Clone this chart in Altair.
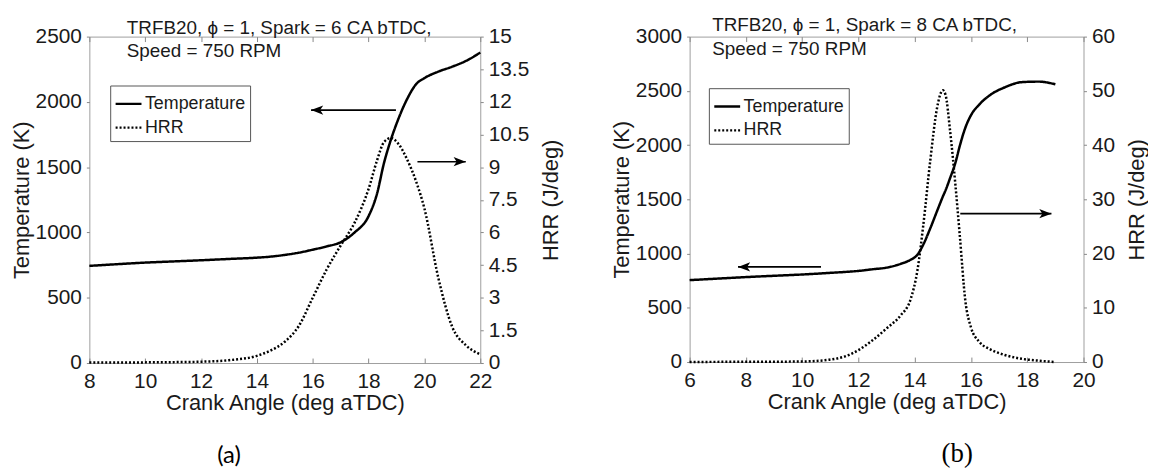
import altair as alt
import pandas as pd

FONT = "Liberation Sans"
INK = "#1a1a1a"
BOX = "#9e9e9e"

# ---------------- data: panel (a) ----------------
ca_a = [8, 9, 10, 11, 12, 13, 14, 14.5, 15, 15.5, 16, 16.5, 17, 17.5, 18, 18.3,
        18.55, 18.8, 19.05, 19.4, 19.7, 20, 20.5, 21, 21.5, 22]
temp_a = [744, 757, 769, 778, 787, 797, 807, 815, 828, 845, 868, 893, 925, 1000,
          1125, 1295, 1530, 1711, 1860, 2030, 2135, 2182, 2232, 2270, 2315, 2378]
hrr_a = [0.02, 0.02, 0.03, 0.04, 0.06, 0.13, 0.33, 0.58, 0.98, 1.7, 3.0, 4.3,
         5.4, 6.45, 8.0, 9.3, 10.15, 10.34, 10.1, 9.3, 8.35, 7.1, 3.9, 1.65, 0.8, 0.4]

# ---------------- data: panel (b) ----------------
ca_b = [6, 7, 8, 9, 10, 10.5, 11, 11.5, 12, 12.5, 13, 13.5, 13.85, 14.1, 14.3,
        14.55, 14.8, 15.0, 15.1, 15.25, 15.45, 15.6, 15.8, 16.0, 16.3, 16.7, 17.2,
        17.8, 18.4, 19.0]
temp_b = [755, 769, 783, 795, 807, 814, 822, 830, 840, 855, 870, 905, 942, 990,
          1080, 1230, 1395, 1525, 1585, 1690, 1840, 1990, 2160, 2275, 2375, 2465,
          2532, 2580, 2585, 2560]
hrr_b = [0.02, 0.03, 0.04, 0.06, 0.1, 0.2, 0.45, 1.0, 2.2, 4.0, 6.2, 8.6, 11.5,
         17, 25, 37, 47, 50.1, 49.2, 43, 32.5, 23.5, 11.3, 6.4, 3.7, 2.3, 1.3,
         0.6, 0.25, 0.0]

# ---------------- axes / ticks ----------------
x_ticks_a = [8, 10, 12, 14, 16, 18, 20, 22]
x_ticks_b = [6, 8, 10, 12, 14, 16, 18, 20]
t_ticks_a = [0, 500, 1000, 1500, 2000, 2500]
t_ticks_b = [0, 500, 1000, 1500, 2000, 2500, 3000]
h_ticks_a = [0, 1.5, 3, 4.5, 6, 7.5, 9, 10.5, 12, 13.5, 15]
h_ticks_b = [0, 10, 20, 30, 40, 50, 60]

series_names = ["Temperature", "HRR"]

# ---------------- annotation arrows (crank angle start/end, temperature-axis level) ----
arrow_a_start = [18.98, 19.75]
arrow_a_end = [15.94, 21.48]
arrow_a_level = [1937, 1542]
arrow_b_start = [10.67, 15.62]
arrow_b_end = [7.72, 18.86]
arrow_b_level = [877, 1368]

title_a = ["TRFB20, \u03d5 = 1, Spark = 6 CA bTDC,", "Speed = 750 RPM"]
title_b = ["TRFB20, \u03d5 = 1, Spark = 8 CA bTDC,", "Speed = 750 RPM"]

HEAD_RIGHT = "M0,0L-1,-0.38L-0.75,0L-1,0.38Z"
HEAD_LEFT = "M0,0L1,-0.38L0.75,0L1,0.38Z"


def panel(ca, temp, hrr, xt, tt, ht, a_start, a_end, a_level, title_lines,
          label, label_font, label_size, label_pos, title_pos, legend_pos,
          width, height):
    df = pd.DataFrame({"ca": ca, "temp": temp, "hrr": hrr})
    xscale = alt.Scale(domain=[xt[0], xt[-1]], nice=False, zero=False)
    tscale = alt.Scale(domain=[tt[0], tt[-1]], nice=False, zero=False)
    hscale = alt.Scale(domain=[ht[0], ht[-1]], nice=False, zero=False)
    dash_scale = alt.Scale(domain=series_names, range=[[1, 0], [2, 2]])
    legend = alt.Legend(
        title=None, orient="none", legendX=legend_pos[0], legendY=legend_pos[1],
        direction="vertical", symbolType="stroke", symbolSize=680,
        symbolStrokeWidth=2.4, symbolStrokeColor="black", labelFont=FONT,
        labelFontSize=18, labelColor=INK, strokeColor="#555555",
        fillColor="white", padding=4, rowPadding=0, labelOffset=2,
    )

    x_main = alt.X("ca:Q", scale=xscale, axis=alt.Axis(
        orient="bottom", values=xt, title="Crank Angle (deg aTDC)", domain=False,
        ticks=False, labelPadding=8, titlePadding=1, grid=False, format="d"))

    temp_line = alt.Chart(df).transform_calculate(series="'Temperature'").mark_line(
        color="black", strokeWidth=2.5, interpolate="monotone"
    ).encode(
        x=x_main,
        y=alt.Y("temp:Q", scale=tscale, axis=alt.Axis(
            orient="left", values=tt, title="Temperature (K)", domain=False,
            tickSize=3, tickColor="#888888", labelPadding=5, titlePadding=2,
            grid=False, format="d")),
        strokeDash=alt.StrokeDash("series:N", scale=dash_scale, legend=legend),
    )

    hrr_line = alt.Chart(df).transform_calculate(series="'HRR'").mark_line(
        color="black", strokeWidth=2.5, interpolate="monotone"
    ).encode(
        x=alt.X("ca:Q", scale=xscale, axis=None),
        y=alt.Y("hrr:Q", scale=hscale, axis=alt.Axis(
            orient="right", values=ht, title="HRR (J/deg)", domain=False,
            tickSize=3, tickColor="#888888", labelPadding=5, titlePadding=12,
            titleAngle=270, titleBaseline="top", grid=False,
            labelExpr="'' + datum.value")),
        strokeDash=alt.StrokeDash("series:N", scale=dash_scale, legend=legend),
    )

    adf = pd.DataFrame({"x0": a_start, "x1": a_end, "y": a_level})
    adf["head"] = [HEAD_RIGHT if e > s else HEAD_LEFT for s, e in zip(a_start, a_end)]

    shafts = alt.Chart(adf).mark_rule(color="black", strokeWidth=1.6).encode(
        x=alt.X("x0:Q", scale=xscale, axis=None),
        x2="x1:Q",
        y=alt.Y("y:Q", scale=tscale, axis=None),
    )
    heads = alt.Chart(adf).mark_point(filled=True, color="black", size=600, opacity=1).encode(
        x=alt.X("x1:Q", scale=xscale, axis=None),
        y=alt.Y("y:Q", scale=tscale, axis=None),
        shape=alt.Shape("head:N", scale=None, legend=None),
    )

    # inward tick marks on bottom and top edges (MATLAB style box)
    ticks_bottom = alt.Chart(df).mark_point(opacity=0).encode(
        x=alt.X("ca:Q", scale=xscale, axis=alt.Axis(
            orient="bottom", offset=-5, values=xt, labels=False, domain=False,
            tickSize=5, tickColor="#888888", title=None, grid=False)),
        y=alt.Y("temp:Q", scale=tscale, axis=None),
    )
    ticks_top = alt.Chart(df).mark_point(opacity=0).encode(
        x=alt.X("ca:Q", scale=xscale, axis=alt.Axis(
            orient="top", offset=-5, values=xt, labels=False, domain=False,
            tickSize=5, tickColor="#888888", title=None, grid=False)),
        y=alt.Y("temp:Q", scale=tscale, axis=None),
    )

    one = pd.DataFrame({"k": [0]})
    note = alt.Chart(one).mark_text(
        text=title_lines, align="left", baseline="alphabetic", font=FONT,
        fontSize=19, lineHeight=24, color=INK,
    ).encode(x=alt.value(title_pos[0]), y=alt.value(title_pos[1]))

    tag = alt.Chart(one).mark_text(
        text=label, align="center", baseline="middle", font=label_font,
        fontSize=label_size, color="black",
    ).encode(x=alt.value(label_pos[0]), y=alt.value(label_pos[1]))

    return alt.layer(
        ticks_bottom, ticks_top, temp_line, hrr_line, shafts, heads, note, tag
    ).resolve_scale(y="independent").resolve_axis(x="independent", y="independent").properties(
        width=width, height=height
    )


pa = panel(ca_a, temp_a, hrr_a, x_ticks_a, t_ticks_a, h_ticks_a,
           arrow_a_start, arrow_a_end, arrow_a_level, title_a,
           "(a)", "Lato", 24, (140.7, 422.3), (37.7, -3), (21, 49.3), 394, 329)
pb = panel(ca_b, temp_b, hrr_b, x_ticks_b, t_ticks_b, h_ticks_b,
           arrow_b_start, arrow_b_end, arrow_b_level, title_b,
           "(b)", "Liberation Serif", 27, (269.7, 420.3), (22.7, -5.4), (19.4, 52), 397, 328)

chart = alt.hconcat(pa, pb, spacing=211, bounds="flush").resolve_scale(
    strokeDash="independent"
).properties(
    padding={"left": 1, "top": 6, "right": 0, "bottom": 0}
).configure_view(
    stroke=BOX, strokeWidth=1
).configure_axis(
    labelFont=FONT, titleFont=FONT, labelFontSize=21, titleFontSize=22,
    labelColor=INK, titleColor=INK, titleFontWeight="normal",
    labelFlush=False, labelOverlap=False
)

chart.save("out.html", embed_options={"renderer": "svg", "actions": False})
